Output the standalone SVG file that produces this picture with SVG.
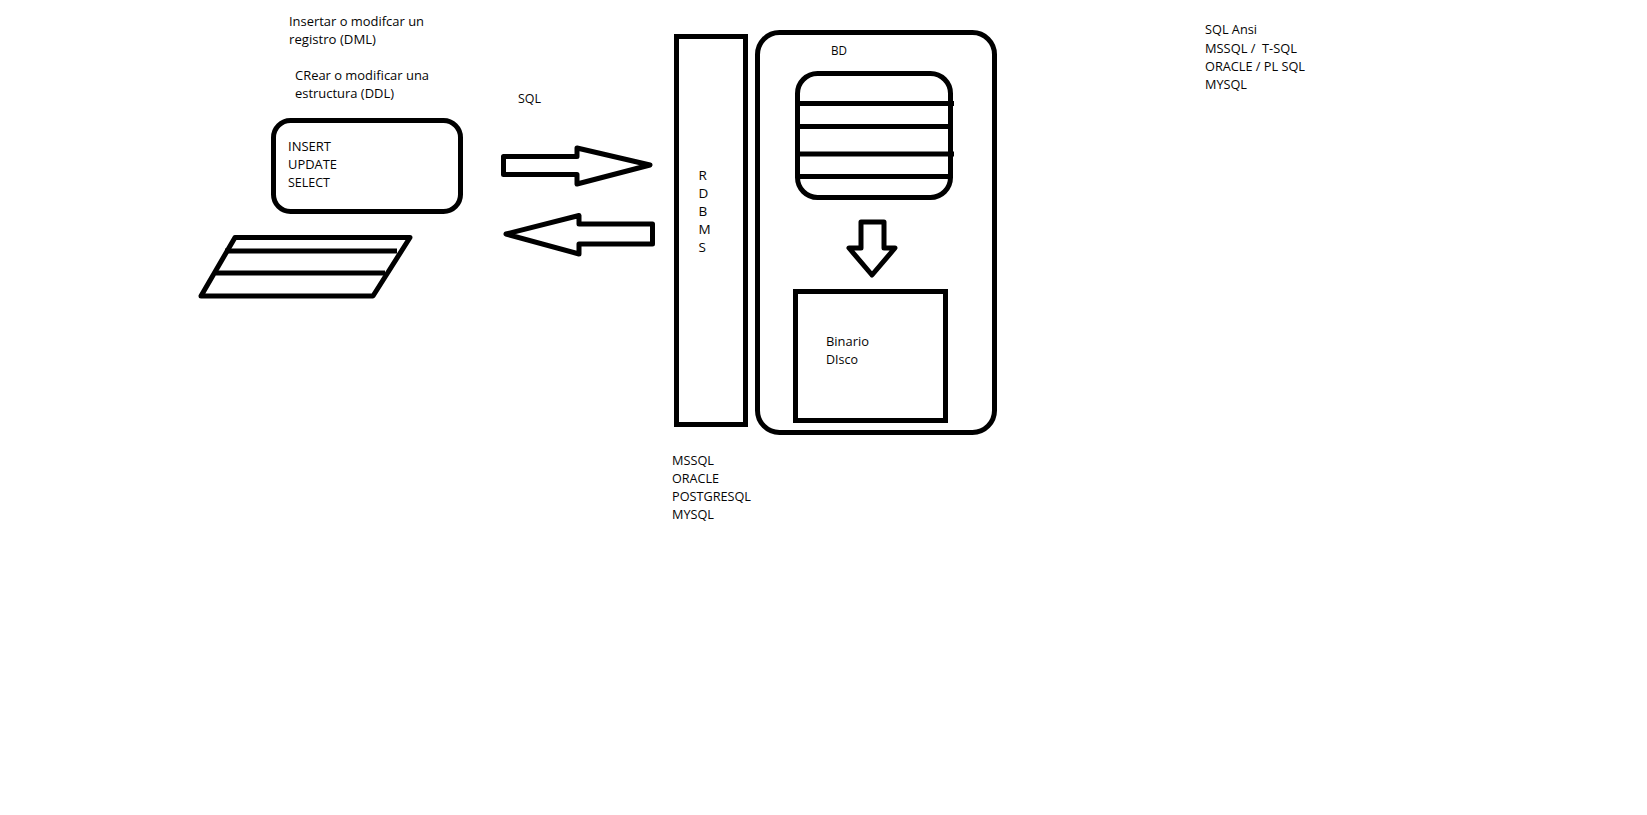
<svg xmlns="http://www.w3.org/2000/svg" width="1647" height="815" viewBox="0 0 1647 815">
<style>
.s{fill:none;stroke:#000;stroke-width:5}
.w{fill:#fff;stroke:#000;stroke-width:5;stroke-linejoin:round}
.l{stroke:#000;stroke-width:5;fill:none}
text{font-family:"Open Sans","Noto Sans","Liberation Sans",sans-serif;font-size:13.5px;fill:#050505;white-space:pre}
</style>
<rect width="1647" height="815" fill="#fff"/>
<g id="labels-top">
<text x="289" y="26" textLength="135" lengthAdjust="spacingAndGlyphs">Insertar o modifcar un</text>
<text x="289" y="44" textLength="87" lengthAdjust="spacingAndGlyphs">registro (DML)</text>
<text x="295" y="80" textLength="134" lengthAdjust="spacingAndGlyphs">CRear o modificar una</text>
<text x="295" y="98" textLength="99" lengthAdjust="spacingAndGlyphs">estructura (DDL)</text>
<text x="518" y="103" textLength="23" lengthAdjust="spacingAndGlyphs">SQL</text>
</g>
<g id="query-box">
<rect class="s" x="273.5" y="120.5" width="187" height="91" rx="17"/>
<text x="288" y="151" textLength="43" lengthAdjust="spacingAndGlyphs">INSERT</text>
<text x="288" y="169" textLength="49" lengthAdjust="spacingAndGlyphs">UPDATE</text>
<text x="288" y="187" textLength="42" lengthAdjust="spacingAndGlyphs">SELECT</text>
</g>
<g id="result-table">
<path class="w" d="M235 237.500H410L373 296H201Z"/>
<path class="l" d="M225 251H397M216 273H385"/>
</g>
<g id="connectors">
<path id="arrow-request" class="w" d="M503.500 156.500H577V148L650 165L577 184V174.500H503.500Z"/>
<path id="arrow-response" class="w" d="M506 234L579 215.500V224H652.500V244H579V254Z"/>
<path id="arrow-down" class="w" d="M861 222H884V248H895L872 275L849 248H861Z"/>
</g>
<g id="rdbms">
<rect class="s" x="676.500" y="36.500" width="69" height="388"/>
<text x="698.500" y="180">R</text>
<text x="698.500" y="198">D</text>
<text x="698.500" y="216">B</text>
<text x="698.500" y="234">M</text>
<text x="698.500" y="252">S</text>
</g>
<g id="bd">
<rect class="s" x="757.500" y="32.500" width="237" height="400" rx="22"/>
<text x="831" y="55" textLength="16" lengthAdjust="spacingAndGlyphs">BD</text>
</g>
<g id="bd-table">
<rect class="s" x="797.500" y="73.500" width="153" height="124" rx="20"/>
<path class="l" d="M797 103.500H954M800 126.500H950M797 154H954M797 176.500H950"/>
</g>
<g id="binario">
<rect class="s" x="795.500" y="291.500" width="150" height="129"/>
<text x="826" y="346" textLength="43" lengthAdjust="spacingAndGlyphs">Binario</text>
<text x="826" y="364" textLength="32" lengthAdjust="spacingAndGlyphs">DIsco</text>
</g>
<g id="labels-rdbms">
<text x="672" y="465" textLength="42" lengthAdjust="spacingAndGlyphs">MSSQL</text>
<text x="672" y="483" textLength="47" lengthAdjust="spacingAndGlyphs">ORACLE</text>
<text x="672" y="501" textLength="79" lengthAdjust="spacingAndGlyphs">POSTGRESQL</text>
<text x="672" y="519" textLength="42" lengthAdjust="spacingAndGlyphs">MYSQL</text>
</g>
<g id="labels-right">
<text x="1205" y="34" textLength="52" lengthAdjust="spacingAndGlyphs">SQL Ansi</text>
<text x="1205" y="53" textLength="92" lengthAdjust="spacingAndGlyphs">MSSQL /  T-SQL</text>
<text x="1205" y="71" textLength="100" lengthAdjust="spacingAndGlyphs">ORACLE / PL SQL</text>
<text x="1205" y="89" textLength="42" lengthAdjust="spacingAndGlyphs">MYSQL</text>
</g>
</svg>
